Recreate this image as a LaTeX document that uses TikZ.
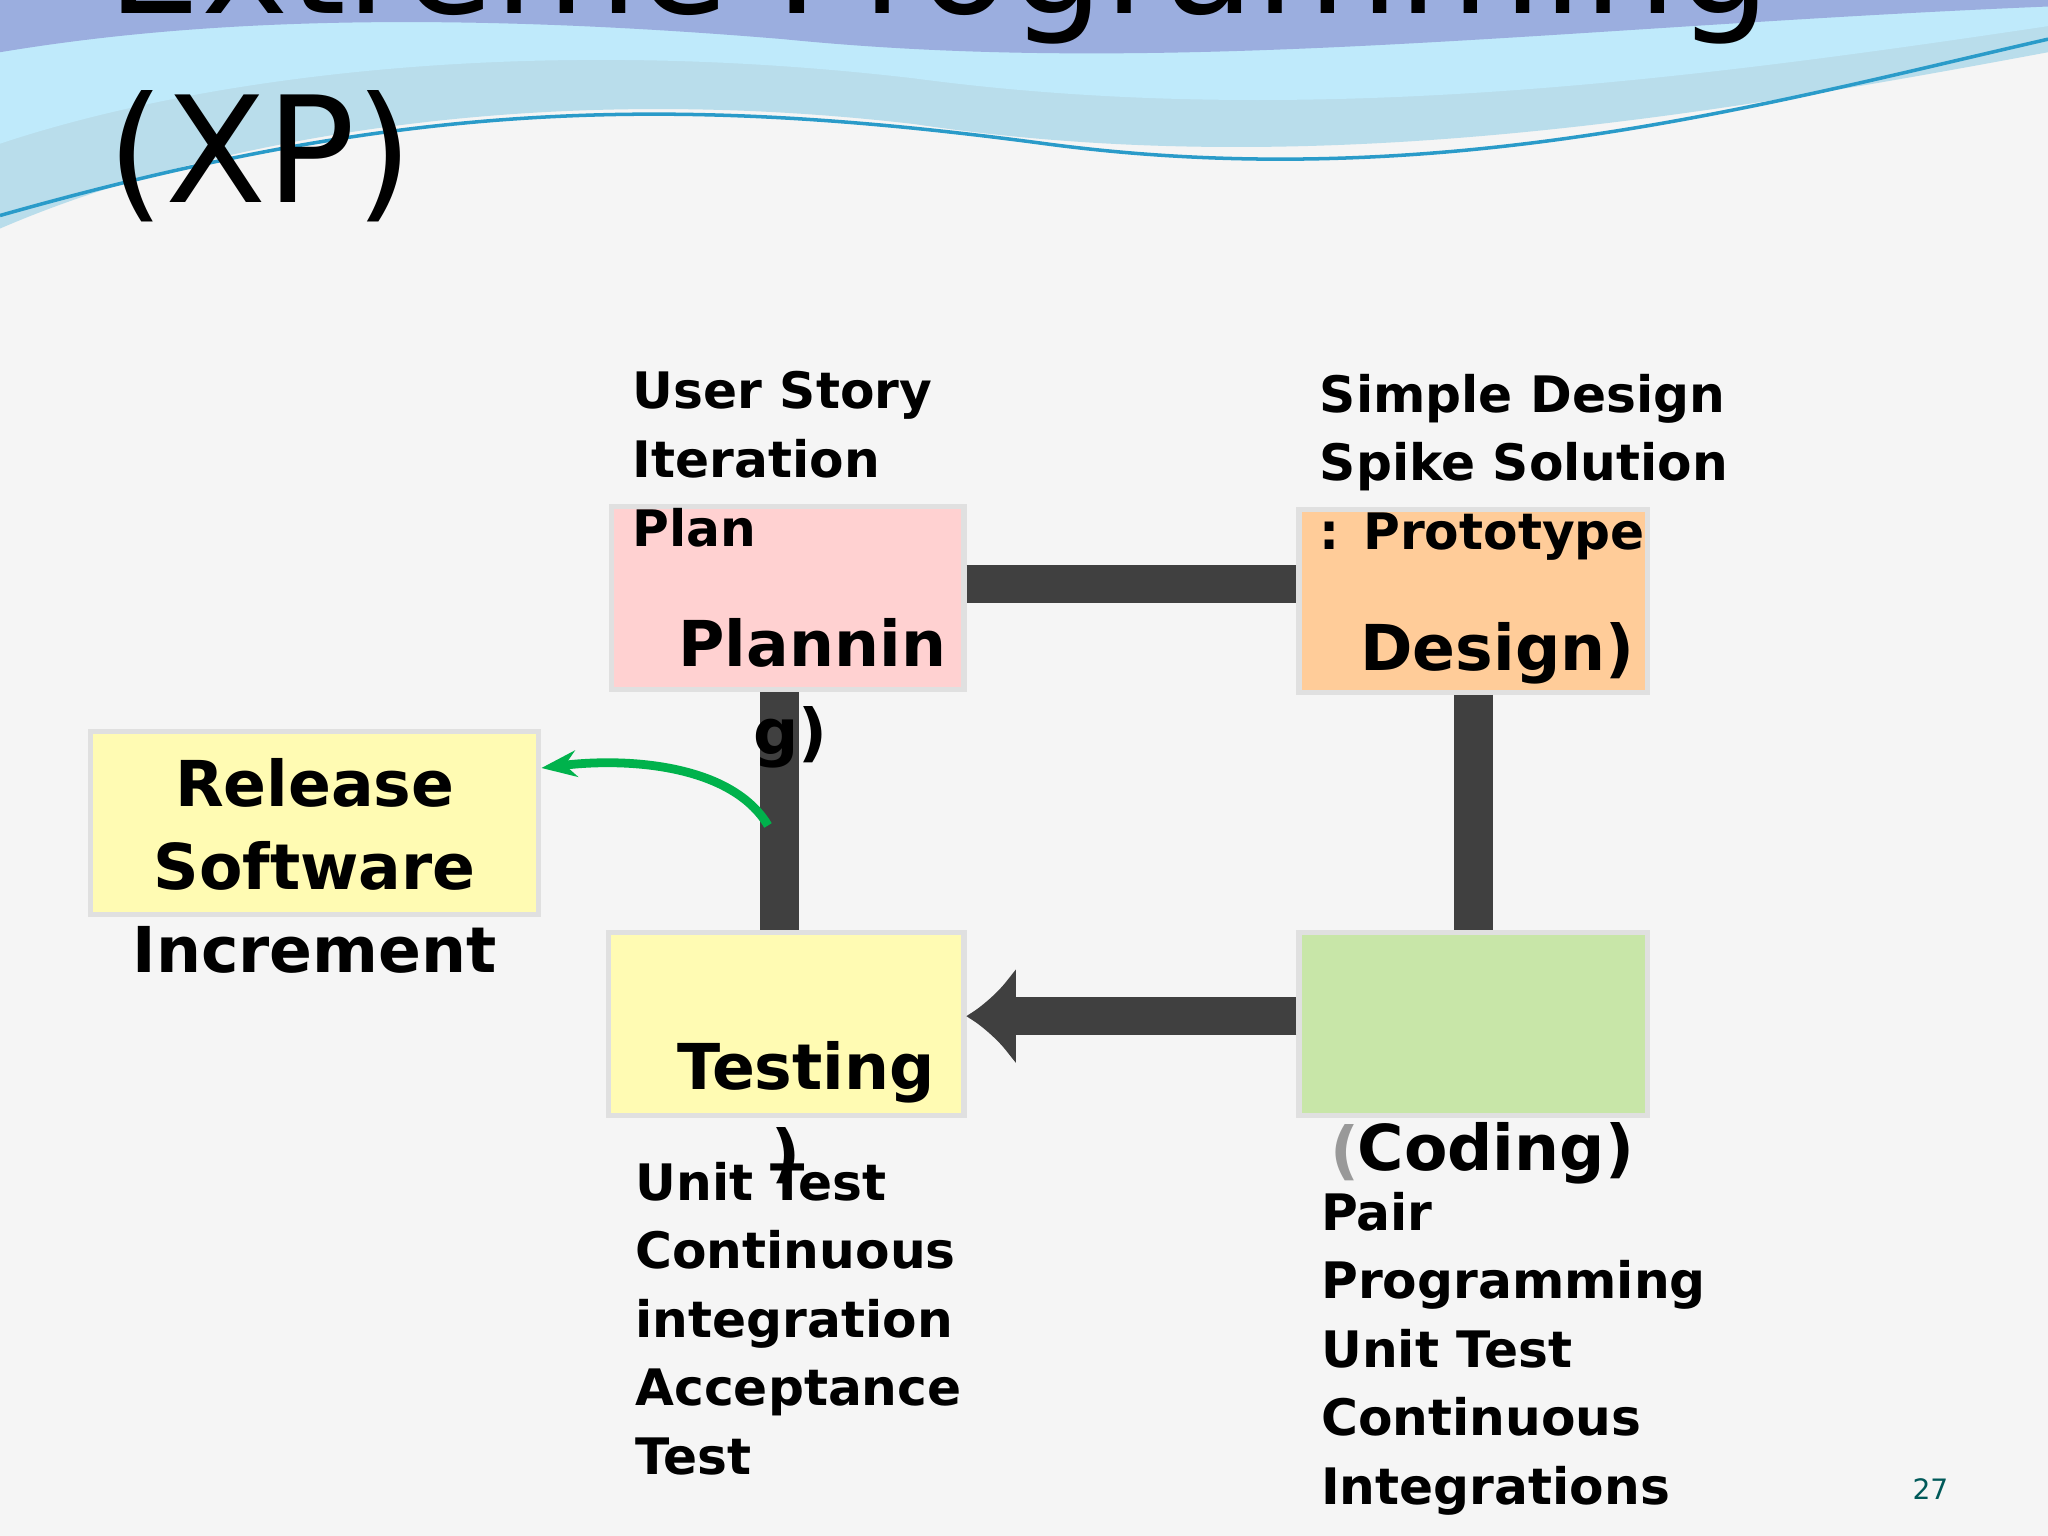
\documentclass[tikz,border=0pt]{standalone}
\usepackage{fontspec}
\setmainfont{DejaVu Sans}
\usetikzlibrary{arrows.meta}
\definecolor{cgreen}{HTML}{C8E6A8}
\begin{document}
\begin{tikzpicture}[x=0.013061cm,y=-0.013061cm,
 box/.style={draw=black!12,line width=1.5pt,inner sep=0pt},
 bar/.style={line width=11pt,draw=black!75},
 lab/.style={anchor=north west,align=left,font=\fontsize{14.3}{19.5}\selectfont\bfseries,inner sep=0pt},
 big/.style={font=\fontsize{18}{22}\selectfont\bfseries,inner sep=0pt}]
\useasboundingbox (0,0) rectangle (1568,1176);
\fill[black!4] (0,0) rectangle (1568,1176);
% top wave
\fill[cyan!50!teal!30] (0,0) -- (1568,0) -- (1568,40) .. controls (1300,90) and (1000,140) .. (700,95) .. controls (400,60) and (150,110) .. (0,175) -- cycle;
\fill[cyan!25] (0,0) -- (1568,0) -- (1568,20) .. controls (1300,60) and (1000,100) .. (700,60) .. controls (400,25) and (150,60) .. (0,110) -- cycle;
\fill[cyan!40!blue!40] (0,0) -- (1568,0) -- (1568,5) .. controls (1200,20) and (900,60) .. (600,30) .. controls (300,5) and (120,20) .. (0,40) -- cycle;
\draw[cyan!60!teal,line width=1pt] (0,165) .. controls (300,80) and (500,70) .. (800,110) .. controls (1100,150) and (1350,80) .. (1568,30);
\node[anchor=base west,inner sep=0pt,font=\fontsize{42}{50}\selectfont] (t1) at (82,10) {Extreme Programming};
\node[anchor=base west,inner sep=0pt,font=\fontsize{42}{50}\selectfont] (t2) at (82,155) {(XP)};
% boxes
\node[box,fill=red!18,minimum width=270*0.013061cm,minimum height=140*0.013061cm] (plan) at (603,458) {};
\node[box,fill=orange!40,minimum width=267*0.013061cm,minimum height=140*0.013061cm] (des) at (1128,460) {};
\node[box,fill=yellow!30,minimum width=272*0.013061cm,minimum height=140*0.013061cm] (test) at (602,784) {};
\node[box,fill=cgreen,minimum width=267*0.013061cm,minimum height=140*0.013061cm] (code) at (1128,784) {};
\node[box,fill=yellow!30,minimum width=343*0.013061cm,minimum height=140*0.013061cm] (rel) at (241,630) {};
% bars
\draw[bar] (plan.east|-0,447) -- (des.west|-0,447);
\draw[bar] (des.south-|1128,0) -- (code.north-|1128,0);
\draw[bar] (test.north-|597,0) -- (plan.south-|597,0);
\draw[bar,-{Latex[length=14pt,width=28pt]}] (code.west|-0,778) -- (test.east|-0,778);
\coordinate (ga) at (588,632);
\draw[teal!60!green,line width=2.5pt,-{Stealth[length=10pt]}] (ga) .. controls (560,585) and (480,580) .. (rel.east|-0,588);
% texts
\node[lab] (l1) at (484,284) {User Story\\Iteration\\Plan};
\node[lab] (l2) at (1010,286) {Simple Design\\Spike Solution\\: Prototype};
\node[lab] (l3) at (486,889) {Unit Test\\Continuous\\integration\\Acceptance\\Test};
\node[lab] (l4) at (1011,912) {Pair\\Programming\\Unit Test\\Continuous\\Integrations};
\node[big,anchor=base west] (p1) at (519,510) {Plannin};
\node[big,anchor=base west] (p2) at (576,578) {g)};
\node[big,anchor=base west] (d1) at (1041,513) {Design)};
\node[big,anchor=base west] (te1) at (518,834) {Testing};
\node[big,anchor=base west] (te2) at (590,900) {)};
\node[big,anchor=base west,text=black!40] (c0) at (1018,898) {(};
\node[big,anchor=base west] (c1) at (1039,896) {Coding)};
\node[big,align=center,font=\fontsize{18}{23.5}\selectfont\bfseries] (r1) at (241,663) {Release\\Software\\Increment};
\node[anchor=base,inner sep=0pt,text=teal!70!black,font=\fontsize{8}{9}\selectfont] (pg) at (1478,1148) {27};
\end{tikzpicture}
\end{document}
